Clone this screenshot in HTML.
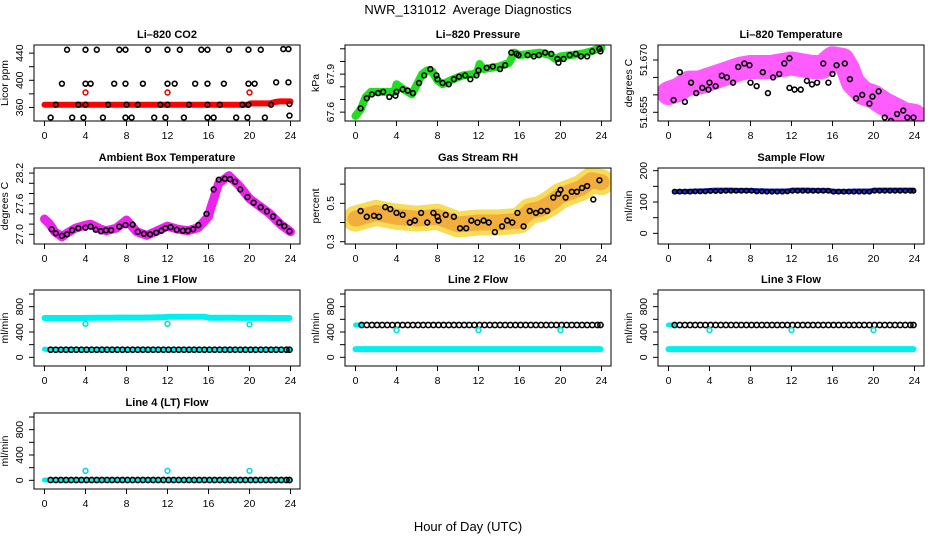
<!DOCTYPE html>
<html><head><meta charset="utf-8">
<style>
html,body{margin:0;padding:0;background:#fff;}
svg{display:block;font-family:"Liberation Sans",sans-serif;}
.tt{font-weight:bold;font-size:11px;}
.tk{font-size:10.5px;}
</style></head>
<body>
<svg id="chart" width="936" height="540" viewBox="0 0 936 540">
<text x="468" y="14" text-anchor="middle" font-size="13" xml:space="preserve">NWR_131012  Average Diagnostics</text>
<text x="468" y="531" text-anchor="middle" font-size="13">Hour of Day (UTC)</text>
</svg>
<script>
// ---- data ----
const xTicks = [0,4,8,12,16,20,24];
const co2BandX = [0,4,8,12,16,19.9,20.1,22,22.5,23,24];
const co2BandY = [364,364,364,364,364,364,366,366,368,369,369];
const co2BlackX = [2.2,4,5.1,7.3,7.9,10.1,12,13.2,15.3,15.9,18,19.9,21.1,23.3,23.8, 1.7,4,4.5,6.8,7.9,9.6,12,12.7,14.7,15.9,17.5,19.9,20.5,22.6,23.8, 1.1,3.3,4,6.2,8,9.1,11.3,12,14.1,15.9,17.1,19.3,19.9,22.1,23.9, 0.6,2.7,3.8,5.7,7.9,8.5,10.7,11.8,13.6,15.9,16.5,18.7,19.8,21.5,23.9];
const co2BlackY = [445,445,445,445,445,445,445,445,445,445,445,445,445,446,446, 395,395,395,395,395,395,395,395,395,395,395,395,395,397,397, 364,364,364,364,364,364,364,364,364,364,364,364,364,364,365, 345,345,345,345,345,345,345,345,345,345,345,345,345,345,348];
const co2RedX = [4,12,20];
const co2RedY = [382,382,382];

const presBandX = [0,0.5,1,1.5,2,3,3.8,4,4.5,5.5,6,6.5,7,7.5,8,8.5,9.5,10.5,11.5,11.9,12.1,12.5,14,15,15.5,16,17,18,19,19.5,20,21,22,23,24];
const presBandY = [67.57,67.62,67.72,67.76,67.76,67.76,67.76,67.82,67.79,67.74,67.82,67.9,67.93,67.92,67.85,67.82,67.86,67.89,67.9,67.92,67.98,67.94,67.96,67.99,68.07,68.05,68.06,68.07,68.05,68.02,68.04,68.05,68.06,68.08,68.11];
const presBlackX = [0.5,1.1,1.6,2.2,2.7,3.3,3.9,4,4.6,5.1,5.6,6.2,6.7,7.3,7.9,8,8.5,9.1,9.6,10.1,10.7,11.2,11.8,12,12.8,13.4,14.1,14.6,15.2,15.7,15.9,16.8,17.4,17.9,18.5,19.1,19.7,19.8,20.3,20.9,21.5,22,22.6,23.1,23.8,23.9];
const presBlackY = [67.63,67.71,67.74,67.75,67.76,67.72,67.73,67.76,67.78,67.77,67.75,67.83,67.89,67.94,67.89,67.86,67.83,67.82,67.86,67.88,67.89,67.86,67.89,67.93,67.95,67.96,67.94,67.97,68.07,68.06,68.05,68.05,68.04,68.05,68.07,68.06,68.02,67.99,68.02,68.05,68.06,68.04,68.04,68.08,68.1,68.08];

const tempBandX = [0,1,2,3,4,5,6,7,8,9,10,11,12,13,14,15,16,17,17.5,18,19,20,21,22,23,24];
const tempBandY = [51.6605,51.6615,51.6635,51.6635,51.6645,51.6655,51.6665,51.6675,51.668,51.668,51.668,51.6685,51.669,51.6685,51.668,51.668,51.6705,51.670,51.6675,51.6635,51.6605,51.6595,51.6575,51.656,51.6545,51.654];
const tempBlackX = [0.5,1.1,1.6,2.2,2.7,3.3,3.9,4,4.6,5.2,5.7,6.3,6.8,7.4,7.9,8,8.6,9.2,9.7,10.2,10.8,11.3,11.8,11.8,12.3,12.9,13.5,14,14.5,15.1,15.6,16,16.4,17.2,17.7,18.3,18.9,19.6,19.9,20.5,21.1,21.7,22.3,22.9,23.3,23.9];
const tempBlackY = [51.6585,51.6665,51.658,51.6635,51.6605,51.662,51.6615,51.6635,51.6625,51.6655,51.665,51.6635,51.668,51.669,51.6685,51.6635,51.6625,51.6665,51.6605,51.665,51.666,51.669,51.6705,51.662,51.6615,51.6615,51.664,51.663,51.6635,51.669,51.6635,51.666,51.6685,51.669,51.6645,51.659,51.660,51.6575,51.6595,51.661,51.6535,51.6525,51.6545,51.6555,51.6535,51.6535];

const ambBandX = [0,0.5,1,1.7,2,3,4,4.5,5.5,6,7,8,9,10,11,12,13,14,15,16,16.2,17,18,19,20,21,22,23,24];
const ambBandY = [27.3,27.2,27.05,26.95,27.0,27.12,27.18,27.2,27.1,27.07,27.12,27.28,27.05,26.98,27.07,27.16,27.1,27.07,27.13,27.35,27.5,28.0,28.15,27.95,27.7,27.55,27.4,27.2,27.05];
const ambBlackX = [0.7,1.1,1.7,2.2,2.7,3.3,4,4.5,5,5.5,6,6.5,7.3,7.9,8.6,9.1,9.7,10.3,10.9,11.4,11.8,12.3,12.9,13.5,14,14.5,15,15.8,16.5,17,17.6,18.1,18.6,19.1,19.8,20.4,21.1,21.7,22.3,22.9,23.4,23.9];
const ambBlackY = [27.1,27.02,26.97,27.0,27.08,27.12,27.13,27.15,27.09,27.06,27.08,27.08,27.15,27.18,27.19,27.05,27.01,27.0,27.03,27.07,27.12,27.14,27.09,27.07,27.07,27.1,27.18,27.4,27.88,28.07,28.09,28.08,28.03,27.88,27.73,27.62,27.53,27.45,27.35,27.23,27.16,27.06];

const rhBandX = [0,2,4,6,8,10,12,14,16,17,18,19,20,22,23,24];
const rhBandY = [0.42,0.45,0.43,0.42,0.43,0.39,0.40,0.40,0.41,0.46,0.47,0.50,0.54,0.58,0.62,0.61];
const rhBlackX = [0.5,1.1,1.8,2.3,2.9,3.4,4,4.6,5.3,5.8,6.4,7,7.6,8,8.1,8.8,9.6,10.2,10.8,11.3,11.9,12.5,13,13.6,14.3,14.8,15.3,15.8,16.4,17,17.6,18.1,18.7,19.3,19.8,20,20.5,21.1,21.6,22.1,22.6,23.2,23.8];
const rhBlackY = [0.46,0.43,0.435,0.43,0.48,0.47,0.45,0.44,0.40,0.41,0.45,0.40,0.45,0.43,0.41,0.44,0.43,0.37,0.37,0.41,0.40,0.41,0.40,0.35,0.38,0.41,0.40,0.45,0.38,0.46,0.45,0.46,0.46,0.53,0.55,0.57,0.53,0.56,0.56,0.58,0.59,0.52,0.62];

const flowHours = [0.6,1.1,1.6,2.1,2.6,3.1,3.6,4.1,4.6,5.1,5.6,6.1,6.6,7.1,7.6,8.1,8.6,9.1,9.6,10.1,10.6,11.1,11.6,12.1,12.6,13.1,13.6,14.1,14.6,15.1,15.6,16.1,16.6,17.1,17.6,18.1,18.6,19.1,19.6,20.1,20.6,21.1,21.6,22.1,22.6,23.1,23.6,23.9];
const sampleBlue = [133,133,134,134,135,135,136,137,138,138,138,138,137,137,137,137,136,136,135,135,135,135,135,138,138,138,138,137,137,137,137,134,134,134,134,135,135,135,135,138,138,138,138,138,138,138,138,138];
const sampleBlack = [133,133,133,133,134,134,134,135,135,135,136,136,136,136,136,136,134,134,133,133,133,133,134,136,136,136,136,136,136,136,136,133,133,133,133,133,133,133,133,136,136,136,136,136,136,136,136,136];
const line1Cyan = [620,620,620,620,620,620,620,622,622,624,624,625,625,626,626,626,626,626,626,628,628,632,632,640,640,640,640,640,640,640,640,625,625,624,624,624,624,622,622,622,622,622,622,620,620,620,620,620];
const line1Black = [120,120,120,120,120,120,120,120,120,120,120,120,120,120,120,120,120,120,120,120,120,120,120,120,120,120,120,120,120,120,120,120,120,120,120,120,120,120,120,120,120,120,120,120,120,120,120,120];
const line2Black = [510,510,510,510,510,510,510,510,510,510,510,510,510,510,510,510,510,510,510,510,510,510,510,510,510,510,510,510,510,510,510,510,510,510,510,510,510,510,510,510,510,510,510,510,510,510,510,510];
const line2Cyan = [130,130,130,130,130,130,130,130,130,130,130,130,130,130,130,130,130,130,130,130,130,130,130,130,130,130,130,130,130,130,130,130,130,130,130,130,130,130,130,130,130,130,130,130,130,130,130,130];
const line4Black = [5,5,5,5,5,5,5,5,5,5,5,5,5,5,5,5,5,5,5,5,5,5,5,5,5,5,5,5,5,5,5,5,5,5,5,5,5,5,5,5,5,5,5,5,5,5,5,5];
const spikeX = [4,12,20];
const line1Spike = [530,530,520];
const line2Spike = [430,430,430];
const line4Spike = [150,150,150];

// ---- drawing ----
const NS = 'http://www.w3.org/2000/svg';
const svg = document.getElementById('chart');
function mk(tag, attrs, parent){ const e = document.createElementNS(NS, tag); for (const k in attrs) e.setAttribute(k, attrs[k]); (parent||svg).appendChild(e); return e; }

function panel(opt){
  const L = opt.L, T = opt.T, W = 266, H = 76;
  const g = mk('g', {});
  
  
  const xs = h => L + 10.5 + h * 246 / 24;
  const ys = v => T + (opt.ymax - v) / (opt.ymax - opt.ymin) * H;
  const title = mk('text', {x: L + W/2, y: T - 7, 'text-anchor':'middle', class:'tt'}, g);
  title.textContent = opt.title;
  
  
  const clipId = 'c' + Math.round(L) + '_' + T;
  const cp = mk('clipPath', {id: clipId}, g);
  mk('rect', {x: L, y: T, width: W, height: H}, cp);
  const inner = mk('g', {'clip-path': 'url(#' + clipId + ')'}, g);
  
  
  opt.draw({xs, ys, g: inner});
  const box = mk('rect', {x: L, y: T, width: W, height: H, fill: 'none', stroke: '#000', 'stroke-width': 1}, g);
  
  
  xTicks.forEach(t => {
    mk('line', {x1: xs(t), x2: xs(t), y1: T + H, y2: T + H + 5, stroke: '#000'}, g);
    const tx = mk('text', {x: xs(t), y: T + H + 18, 'text-anchor': 'middle', class: 'tk'}, g);
    tx.textContent = t;
    
    
  });
  opt.yTicks.forEach(t => {
    mk('line', {x1: L - 5, x2: L, y1: ys(t), y2: ys(t), stroke: '#000'}, g);
  });
  opt.yLabels.forEach((t, i) => {
    const y = ys(t), x = L - 11;
    const tx = mk('text', {x: x, y: y, 'text-anchor': 'middle', class: 'tk', transform: 'rotate(-90 ' + x + ' ' + y + ')'}, g);
    tx.textContent = opt.yLabelText ? opt.yLabelText[i] : t;
    
    
  });
  const yx = L - 26, yy = T + H/2;
  const yt = mk('text', {x: yx, y: yy, 'text-anchor': 'middle', 'font-size': 10.5, transform: 'rotate(-90 ' + yx + ' ' + yy + ')'}, g);
  yt.textContent = opt.ylab;
  
  
}

function band(c, X, Y, color, w, name, op){
  const p = mk('polyline', {points: X.map((x, i) => c.xs(x) + ',' + c.ys(Y[i])).join(' '), fill: 'none', stroke: color, 'stroke-width': w, 'stroke-linejoin': 'round', 'stroke-linecap': 'round', 'stroke-opacity': op || 1}, c.g);
  
  
}
function pts(c, X, Y, color, name, r){
  const g = mk('g', {}, c.g);
  
  
  X.forEach((x, i) => {
    mk('circle', {cx: c.xs(x), cy: c.ys(Y[i]), r: r || 2.4, fill: 'none', stroke: color, 'stroke-width': 1.6}, g);
  });
}

const C1 = 34, C2 = 345, C3 = 658;
const R = [45, 168, 290, 413];
const flowTicks = [0,200,400,600,800,1000];

panel({name:'co2-panel', title:'Li\u2013820 CO2', L:C1, T:R[0], ymin:340, ymax:452, yTicks:[360,380,400,420,440], yLabels:[360,400,440], ylab:'Licor ppm',
  draw: c => { band(c, co2BandX, co2BandY, '#ff0000', 6, 'co2-red-band'); pts(c, co2RedX, co2RedY, '#ff0000', 'co2-red-points'); pts(c, co2BlackX, co2BlackY, '#000', 'co2-black-points'); }});
panel({name:'pressure-panel', title:'Li\u2013820 Pressure', L:C2, T:R[0], ymin:67.53, ymax:68.13, yTicks:[67.6,67.7,67.8,67.9,68.0,68.1], yLabels:[67.6,67.9], yLabelText:['67.6','67.9'], ylab:'kPa',
  draw: c => { band(c, presBandX, presBandY, '#22dd22', 8, 'pressure-green-band'); pts(c, presBlackX, presBlackY, '#000', 'pressure-black-points'); }});
panel({name:'temperature-panel', title:'Li\u2013820 Temperature', L:C3, T:R[0], ymin:51.6525, ymax:51.6743, yTicks:[51.655,51.660,51.665,51.670], yLabels:[51.655,51.670], yLabelText:['51.655','51.670'], ylab:'degrees C',
  draw: c => { band(c, tempBandX, tempBandY, '#ff33ff', 24, 'temperature-magenta-band', 0.8); pts(c, tempBlackX, tempBlackY, '#000', 'temperature-black-points'); }});
panel({name:'ambient-panel', title:'Ambient Box Temperature', L:C1, T:R[1], ymin:26.81, ymax:28.30, yTicks:[27.0,27.2,27.4,27.6,27.8,28.0,28.2], yLabels:[27.0,27.6,28.2], yLabelText:['27.0','27.6','28.2'], ylab:'degrees C',
  draw: c => { band(c, ambBandX, ambBandY, '#ee22ee', 9, 'ambient-magenta-band'); pts(c, ambBlackX, ambBlackY, '#000', 'ambient-black-points'); }});
panel({name:'rh-panel', title:'Gas Stream RH', L:C2, T:R[1], ymin:0.288, ymax:0.684, yTicks:[0.3,0.4,0.5,0.6], yLabels:[0.3,0.5], ylab:'percent',
  draw: c => { band(c, rhBandX, rhBandY, '#f5d020', 26, 'rh-yellow-band', 0.75); band(c, rhBandX, rhBandY, '#f09a30', 16, 'rh-red-band', 0.7); pts(c, rhBlackX, rhBlackY, '#000', 'rh-black-points'); }});
panel({name:'sample-flow-panel', title:'Sample Flow', L:C3, T:R[1], ymin:-34, ymax:208.6, yTicks:[0,50,100,150,200], yLabels:[0,100,200], ylab:'ml/min',
  draw: c => { band(c, flowHours, sampleBlue, '#1a2ee8', 5, 'sample-blue-band'); pts(c, flowHours, sampleBlack, '#000', 'sample-black-points', 2.2); }});
panel({name:'line1-flow-panel', title:'Line 1 Flow', L:C1, T:R[2], ymin:-137, ymax:1063, yTicks:flowTicks, yLabels:[0,400,800], ylab:'ml/min',
  draw: c => { band(c, [0].concat(flowHours), [620].concat(line1Cyan), '#00f0f0', 6, 'line1-cyan-band'); band(c, [0].concat(flowHours), [130].concat(line1Black), '#00f0f0', 5, 'line1-cyan-low'); pts(c, flowHours, line1Black, '#000', 'line1-black-points', 2.6); pts(c, spikeX, line1Spike, '#00e0e0', 'line1-spikes'); }});
panel({name:'line2-flow-panel', title:'Line 2 Flow', L:C2, T:R[2], ymin:-137, ymax:1063, yTicks:flowTicks, yLabels:[0,400,800], ylab:'ml/min',
  draw: c => { band(c, [0].concat(flowHours), [130].concat(line2Cyan), '#00f0f0', 6, 'line2-cyan-band'); band(c, [0,0.6], [510,510], '#00f0f0', 5, 'line2-cyan-start'); pts(c, flowHours, line2Black, '#000', 'line2-black-points', 2.6); pts(c, spikeX, line2Spike, '#00e0e0', 'line2-spikes'); }});
panel({name:'line3-flow-panel', title:'Line 3 Flow', L:C3, T:R[2], ymin:-137, ymax:1063, yTicks:flowTicks, yLabels:[0,400,800], ylab:'ml/min',
  draw: c => { band(c, [0].concat(flowHours), [130].concat(line2Cyan), '#00f0f0', 6, 'line3-cyan-band'); band(c, [0,0.6], [510,510], '#00f0f0', 5, 'line3-cyan-start'); pts(c, flowHours, line2Black, '#000', 'line3-black-points', 2.6); pts(c, spikeX, line2Spike, '#00e0e0', 'line3-spikes'); }});
panel({name:'line4-flow-panel', title:'Line 4 (LT) Flow', L:C1, T:R[3], ymin:-137, ymax:1063, yTicks:flowTicks, yLabels:[0,400,800], ylab:'ml/min',
  draw: c => { band(c, [0].concat(flowHours), [5].concat(line4Black), '#00f0f0', 5, 'line4-cyan-band'); pts(c, flowHours, line4Black, '#000', 'line4-black-points', 2.6); pts(c, spikeX, line4Spike, '#00e0e0', 'line4-spikes'); }});
</script>
</body></html>
